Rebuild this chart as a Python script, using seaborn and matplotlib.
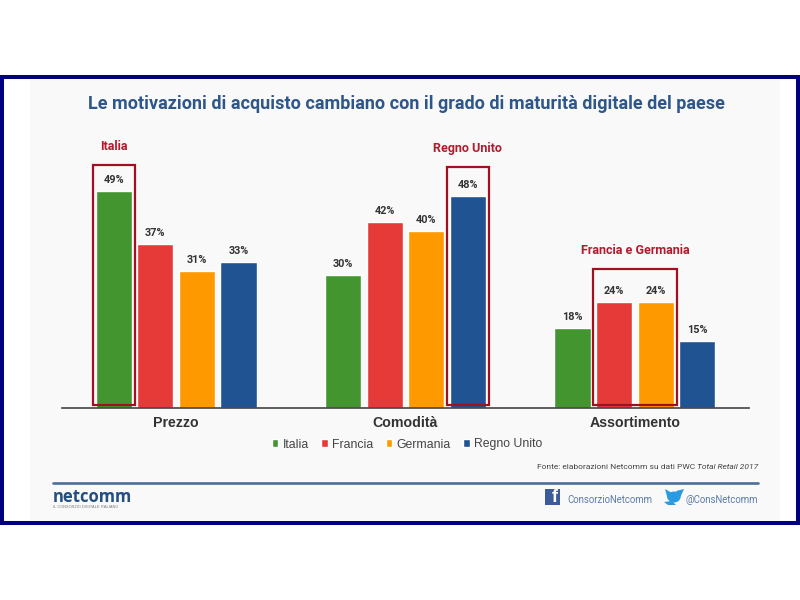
import matplotlib
matplotlib.use("Agg")
import matplotlib.pyplot as plt
from matplotlib.patches import Rectangle, Ellipse, Polygon
import seaborn as sns
import pandas as pd

categories = ["Prezzo", "Comodità", "Assortimento"]
countries = ["Italia", "Francia", "Germania", "Regno Unito"]
italia = [49, 30, 18]
francia = [37, 42, 24]
germania = [31, 40, 24]
regno_unito = [33, 48, 15]
colors = ["#43962F", "#E53A38", "#FF9900", "#1F5391"]

narrow = "Roboto"

df = pd.DataFrame({
    "Categoria": categories * 4,
    "Paese": [c for c in countries for _ in categories],
    "Valore": italia + francia + germania + regno_unito,
})

sns.set_theme(style="white")
plt.rcParams["font.family"] = ["Liberation Sans", "DejaVu Sans"]
W, H = 800, 600
fig = plt.figure(figsize=(8, 6), dpi=100, facecolor="white")


def px(x, y, w, h):
    return [x / W, 1 - (y + h) / H, w / W, h / H]


bg = fig.add_axes([0, 0, 1, 1], zorder=0)
bg.set_xlim(0, W)
bg.set_ylim(H, 0)
bg.axis("off")
bg.add_patch(Rectangle((2, 77), 796, 446, fc="white", ec="#00007F", lw=2.9))
bg.add_patch(Rectangle((30, 80), 750, 440, fc="#F9F9F9", ec="none"))
bg.plot([53, 758], [482.7, 482.7], color="#4A6F9C", lw=1.9)

ax = fig.add_axes(px(61.5, 99.5, 688, 308), zorder=1)
ax.patch.set_alpha(0)
sns.barplot(data=df, x="Categoria", y="Valore", hue="Paese", order=categories,
            hue_order=countries, palette=colors, width=0.725, gap=0.13,
            saturation=1, legend=False, ax=ax)
ax.set_xlim(-0.5, 2.5)
ax.set_ylim(0, 308 / 4.41)
ax.set_xlabel("")
ax.set_ylabel("")
ax.set_yticks([])
for s in ["top", "left", "right"]:
    ax.spines[s].set_visible(False)
ax.spines["bottom"].set_color("#444444")
ax.spines["bottom"].set_linewidth(1.2)
ax.tick_params(axis="x", length=0, pad=6)
for t in ax.get_xticklabels():
    t.set_fontsize(10.2)
    t.set_fontweight("bold")
    t.set_color("#333333")

for cont in ax.containers:
    for bar in cont:
        ax.annotate(f"{bar.get_height():.0f}%", (bar.get_x() + bar.get_width() / 2, bar.get_height()),
                    xytext=(0, 4.3), textcoords="offset points", ha="center", va="bottom",
                    fontsize=7.8, fontweight="bold", family=narrow, color="#333333")


# highlight boxes derive from the bars they surround
def highlight(bars, label, pad_top, label_gap):
    x0 = min(b.get_x() for b in bars)
    x1 = max(b.get_x() + b.get_width() for b in bars)
    top = max(b.get_height() for b in bars)
    dx = 3 / 229
    ytop = top + pad_top / 4.41
    ax.add_patch(Rectangle((x0 - dx, 3 / 4.41), x1 - x0 + 2 * dx, ytop - 3 / 4.41, fill=False,
                           ec="#A01020", lw=1.6, clip_on=False, zorder=5))
    ax.text((x0 + x1) / 2, ytop + label_gap / 4.41, label, ha="center", va="bottom", fontsize=9,
            fontweight="bold", family=narrow, color="#B01C2E")


c = ax.containers
highlight([c[0][0]], "Italia", 26, 12)
highlight([c[3][1]], "Regno Unito", 29, 12)
highlight([c[1][2], c[2][2]], "Francia e Germania", 33, 12)

handles = [Rectangle((0, 0), 1, 1, fc=col) for col in colors]
leg = ax.legend(handles, countries, ncols=4, loc="center", frameon=False, fontsize=8.8,
                bbox_to_anchor=((407 - 61.5) / 688, (408 - 445) / 308), handlelength=0.55,
                handleheight=0.55, handletextpad=0.35, columnspacing=1.0, labelcolor="#444444")

bg.text(406, 104, "Le motivazioni di acquisto cambiano con il grado di maturità digitale del paese",
        ha="center", va="center", fontsize=12.95, fontweight="bold", family=narrow, color="#2F5688")

# source line: roman part placed against the italic part
ital = bg.text(758, 467, "Total Retail 2017", ha="right", va="center", fontsize=6, style="italic",
               family=narrow, color="#444444")
fig.canvas.draw()
left_px = ital.get_window_extent().x0
bg.text(left_px - 1.5, 467, "Fonte: elaborazioni Netcomm su dati PWC", ha="right", va="center",
        fontsize=6, family=narrow, color="#444444")

bg.text(53, 497, "netcomm", ha="left", va="center", fontsize=12, fontweight="bold", color="#24507F",
        family="Open Sans")
bg.text(53, 507, "IL CONSORZIO DIGITALE ITALIANO", ha="left", va="center", fontsize=2.8, color="#777777")
bg.add_patch(Rectangle((545, 489), 15, 16, fc="#3B5C98", ec="none"))
bg.text(555, 498, "f", ha="center", va="center", fontsize=13, fontweight="bold", color="white")
bg.text(567, 500, "ConsorzioNetcomm", ha="left", va="center", fontsize=6.9, family=narrow, color="#5D7CA6")
bg.add_patch(Ellipse((674, 497), 13, 11, fc="#2A9BE0", ec="none"))
bg.add_patch(Polygon([[665, 489], [672, 493], [668, 500]], fc="#2A9BE0", ec="none"))
bg.add_patch(Polygon([[676, 491], [684, 489], [680, 498]], fc="#2A9BE0", ec="none"))
bg.add_patch(Polygon([[664, 502], [672, 501], [676, 505], [668, 505]], fc="#2A9BE0", ec="none"))
bg.text(686, 500, "@ConsNetcomm", ha="left", va="center", fontsize=6.9, family=narrow, color="#5D7CA6")

fig.savefig("out.png", dpi=100)
